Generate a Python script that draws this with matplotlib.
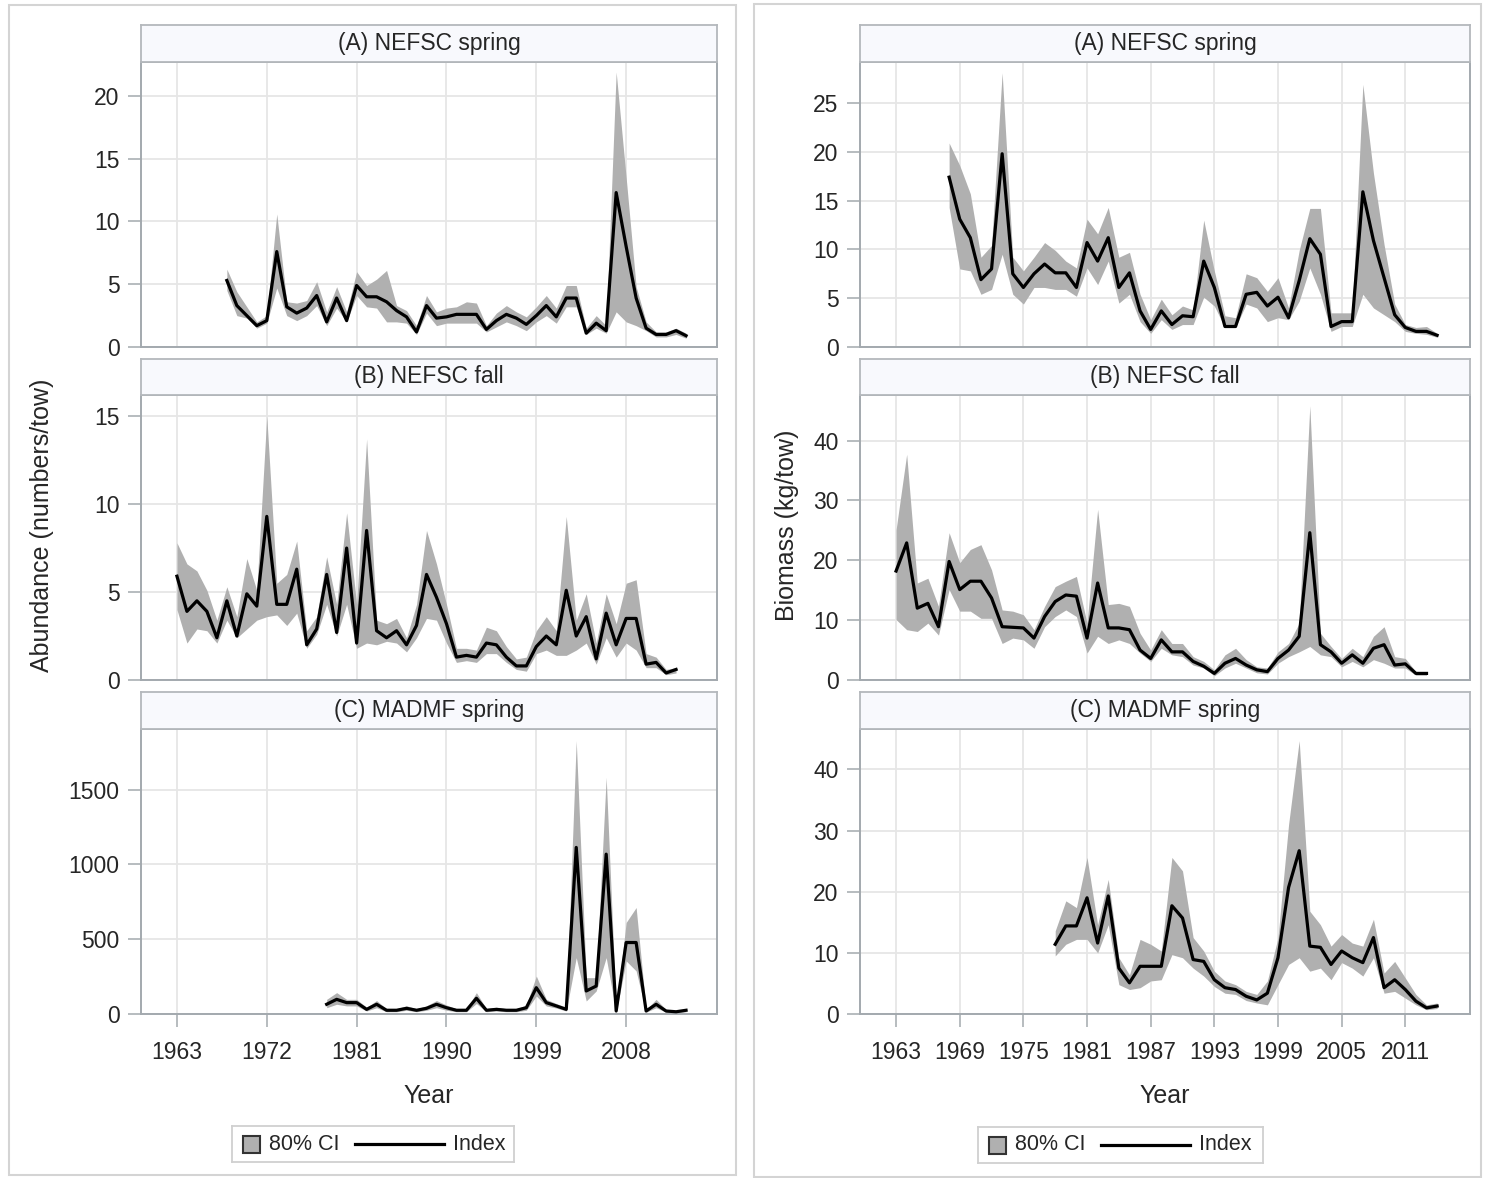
import numpy as np
import matplotlib
matplotlib.use("Agg")
import matplotlib.pyplot as plt
from matplotlib.patches import Rectangle
from matplotlib.lines import Line2D

plt.rcParams['font.family'] = ['Liberation Sans', 'DejaVu Sans']

# ---------------- data ----------------
spring_years = list(range(1968, 2015))
fall_years = list(range(1963, 2014))
madmf_years = list(range(1978, 2015))

# Abundance (numbers/tow)
ab_spring_idx = [5.3, 3.3, 2.5, 1.7, 2.1, 7.6, 3.2, 2.7, 3.1, 4.1,
                 2.0, 3.9, 2.1, 4.9, 4.0, 4.0, 3.6, 2.9, 2.4, 1.2,
                 3.3, 2.3, 2.4, 2.6, 2.6, 2.6, 1.4, 2.1, 2.6, 2.3,
                 1.8, 2.5, 3.3, 2.4, 3.9, 3.9, 1.1, 1.9, 1.3, 12.3,
                 8.0, 3.9, 1.5, 1.0, 1.0, 1.3, 0.9]
ab_spring_hi = [6.2, 4.4, 3.2, 2.0, 2.5, 10.6, 3.6, 3.5, 3.7, 5.2,
                2.8, 4.8, 2.8, 6.0, 4.9, 5.4, 6.1, 3.3, 2.9, 1.7,
                4.1, 2.8, 3.1, 3.2, 3.6, 3.5, 1.7, 2.7, 3.3, 2.8,
                2.4, 3.2, 4.1, 3.1, 4.9, 4.9, 1.5, 2.5, 1.7, 21.9,
                13.5, 4.8, 2.0, 1.2, 1.2, 1.5, 1.1]
ab_spring_lo = [4.5, 2.5, 2.3, 1.5, 1.9, 4.7, 2.5, 2.1, 2.5, 3.3,
                1.7, 3.1, 2.0, 4.1, 3.2, 3.1, 2.0, 2.0, 1.9, 1.0,
                2.7, 1.7, 1.9, 1.9, 1.9, 1.9, 1.2, 1.6, 2.0, 1.7,
                1.3, 2.0, 2.5, 1.9, 3.2, 3.2, 1.0, 1.5, 1.1, 2.8,
                2.0, 1.7, 1.3, 0.8, 0.8, 1.0, 0.7]

ab_fall_idx = [5.9, 3.9, 4.5, 3.9, 2.4, 4.5, 2.5, 4.9, 4.2, 9.3,
               4.3, 4.3, 6.3, 2.0, 2.9, 6.0, 2.7, 7.5, 2.1, 8.5,
               2.8, 2.4, 2.8, 2.0, 3.1, 6.0, 4.7, 3.2, 1.3, 1.4,
               1.3, 2.1, 2.0, 1.3, 0.8, 0.8, 1.9, 2.5, 2.0, 5.1,
               2.5, 3.6, 1.2, 3.8, 2.0, 3.5, 3.5, 0.9, 1.0, 0.4,
               0.6]
ab_fall_hi = [7.8, 6.6, 6.2, 5.1, 3.4, 5.3, 3.6, 6.9, 5.1, 15.0,
              5.5, 6.0, 7.9, 2.8, 3.6, 7.0, 4.3, 9.5, 4.3, 13.7,
              3.4, 3.2, 3.5, 2.4, 4.3, 8.5, 6.6, 4.3, 1.8, 1.8,
              1.7, 3.0, 2.8, 1.9, 1.2, 1.3, 2.8, 3.6, 2.8, 9.3,
              3.4, 4.9, 2.1, 4.9, 3.2, 5.5, 5.7, 1.5, 1.3, 0.6,
              0.7]
ab_fall_lo = [4.0, 2.1, 2.9, 2.8, 2.1, 3.4, 2.4, 2.9, 3.4, 3.6,
              3.7, 3.1, 3.8, 1.8, 2.6, 4.3, 2.5, 4.3, 1.8, 2.1,
              2.0, 2.2, 2.1, 1.6, 2.4, 3.5, 3.4, 2.1, 1.0, 1.1,
              1.0, 1.5, 1.5, 1.0, 0.6, 0.5, 1.5, 1.7, 1.4, 1.4,
              1.7, 2.1, 0.9, 2.4, 1.3, 2.1, 1.7, 0.7, 0.7, 0.3,
              0.4]

ab_madmf_idx = [65, 98, 76, 76, 31, 65, 25, 25, 38, 25,
                38, 65, 42, 25, 25, 105, 25, 31, 25, 25,
                42, 176, 76, 54, 31, 1114, 154, 187, 1069, 20,
                478, 478, 20, 65, 20, 15, 25]
ab_madmf_hi = [98, 143, 98, 98, 45, 90, 35, 35, 55, 35,
               55, 90, 60, 35, 35, 143, 35, 45, 35, 35,
               60, 254, 98, 70, 45, 1828, 243, 243, 1583, 35,
               612, 712, 30, 98, 30, 22, 35]
ab_madmf_lo = [42, 65, 54, 54, 20, 42, 15, 15, 25, 15,
               25, 42, 25, 15, 15, 70, 15, 20, 15, 15,
               25, 120, 54, 40, 20, 377, 87, 154, 377, 10,
               355, 288, 12, 42, 12, 8, 15]

# Biomass (kg/tow)
bm_spring_idx = [17.4, 13.1, 11.2, 6.9, 8.0, 19.8, 7.5, 6.1, 7.5, 8.5,
                 7.6, 7.6, 6.1, 10.7, 8.8, 11.2, 6.1, 7.6, 3.7, 1.8,
                 3.7, 2.3, 3.2, 3.1, 8.8, 6.1, 2.1, 2.1, 5.4, 5.6,
                 4.2, 5.1, 3.0, 6.8, 11.1, 9.5, 2.1, 2.6, 2.6, 15.9,
                 10.9, 7.1, 3.3, 2.0, 1.6, 1.6, 1.2]
bm_spring_hi = [20.9, 18.6, 15.7, 9.2, 10.4, 28.1, 9.2, 7.8, 9.2, 10.7,
                9.9, 8.8, 8.1, 13.1, 11.6, 14.3, 9.2, 9.7, 5.4, 2.8,
                4.9, 3.3, 4.2, 3.8, 13.0, 7.8, 3.2, 3.0, 7.5, 7.1,
                5.7, 7.1, 4.0, 9.9, 14.2, 14.2, 3.5, 3.5, 3.5, 26.9,
                17.8, 10.5, 4.4, 2.3, 2.0, 2.1, 1.4]
bm_spring_lo = [14.3, 8.0, 7.8, 5.4, 5.9, 9.5, 5.4, 4.4, 6.1, 6.1,
                5.9, 5.9, 5.2, 8.1, 6.4, 8.8, 4.5, 5.4, 2.6, 1.4,
                2.8, 1.8, 2.3, 2.3, 5.1, 4.2, 2.0, 2.0, 4.4, 4.0,
                2.6, 3.0, 2.8, 4.7, 8.1, 5.4, 1.6, 2.1, 2.1, 5.4,
                4.0, 3.3, 2.6, 1.6, 1.4, 1.3, 1.0]

bm_fall_idx = [18.2, 22.9, 12.0, 12.8, 8.9, 19.8, 15.1, 16.5, 16.5, 13.7,
               8.9, 8.8, 8.7, 7.0, 10.6, 13.1, 14.2, 14.0, 7.0, 16.2,
               8.7, 8.7, 8.4, 5.0, 3.6, 6.7, 4.7, 4.7, 3.1, 2.3,
               1.1, 2.8, 3.6, 2.5, 1.7, 1.4, 3.6, 5.0, 7.3, 24.6,
               5.9, 4.7, 2.8, 4.2, 2.8, 5.3, 5.9, 2.5, 2.7, 1.1,
               1.1]
bm_fall_hi = [25.1, 37.7, 16.2, 17.0, 12.3, 24.6, 19.6, 21.8, 22.6, 18.4,
              11.7, 11.5, 10.9, 8.4, 12.3, 15.6, 16.5, 17.3, 9.5, 28.5,
              12.6, 12.8, 12.3, 7.8, 5.0, 8.4, 6.1, 6.1, 3.9, 3.1,
              1.7, 4.2, 5.3, 3.4, 2.2, 2.0, 4.7, 6.1, 9.5, 45.8,
              7.8, 5.6, 3.6, 5.3, 3.9, 7.3, 8.9, 3.9, 3.6, 1.4,
              1.4]
bm_fall_lo = [10.1, 8.4, 8.1, 9.5, 7.5, 15.1, 11.5, 11.5, 10.3, 10.3,
              6.1, 7.0, 6.7, 5.3, 8.9, 10.6, 11.7, 10.6, 4.5, 7.3,
              6.1, 6.7, 6.1, 4.5, 3.1, 5.3, 4.2, 3.9, 2.5, 2.0,
              0.7, 2.0, 2.8, 2.0, 1.2, 1.0, 2.8, 3.9, 4.7, 5.6,
              4.2, 3.9, 2.2, 3.1, 2.2, 3.4, 2.8, 2.0, 2.0, 0.8,
              0.8]

bm_madmf_idx = [11.4, 14.4, 14.4, 19.0, 11.6, 19.3, 7.5, 5.1, 7.8, 7.8,
                7.8, 17.7, 15.7, 8.9, 8.6, 5.6, 4.3, 4.0, 2.9, 2.3,
                3.4, 9.2, 20.7, 26.7, 11.1, 10.9, 8.1, 10.3, 9.2, 8.4,
                12.5, 4.3, 5.6, 4.0, 2.1, 1.0, 1.3]
bm_madmf_hi = [13.6, 18.5, 17.4, 25.6, 14.6, 22.0, 9.2, 6.4, 12.2, 11.4,
               10.3, 25.6, 23.4, 12.5, 10.3, 7.0, 5.4, 4.8, 3.7, 3.2,
               5.4, 12.5, 31.0, 44.7, 16.8, 14.6, 11.1, 13.0, 11.6, 11.1,
               15.5, 6.7, 8.6, 5.9, 3.2, 1.5, 1.8]
bm_madmf_lo = [9.5, 11.4, 12.2, 12.2, 10.0, 14.6, 4.8, 4.0, 4.3, 5.4,
               5.6, 9.7, 9.2, 7.5, 6.2, 4.5, 3.4, 3.2, 2.2, 1.8,
               1.5, 4.8, 8.1, 9.2, 7.0, 7.5, 5.6, 8.4, 7.5, 6.2,
               9.2, 3.4, 3.7, 2.6, 1.5, 0.7, 0.9]

titles = ["(A) NEFSC spring", "(B) NEFSC fall", "(C) MADMF spring"]
left_xticks = [1963, 1972, 1981, 1990, 1999, 2008]
right_xticks = [1963, 1969, 1975, 1981, 1987, 1993, 1999, 2005, 2011]
left_yticks = [[0, 5, 10, 15, 20], [0, 5, 10, 15], [0, 500, 1000, 1500]]
right_yticks = [[0, 5, 10, 15, 20, 25], [0, 10, 20, 30, 40], [0, 10, 20, 30, 40]]
left_ylims = [(0, 22.7), (0, 16.2), (0, 1906)]
right_ylims = [(0, 29.2), (0, 47.6), (0, 46.6)]
legend_labels = ["80% CI", "Index"]

# ---------------- style ----------------
W, H = 1485, 1178
BAND = '#B0B0B0'
GRID = '#E6E6E6'
SPINE = '#A3A9AE'
TXT = '#262626'
HEADER = '#F8F9FD'
FS = 16.5

fig = plt.figure(figsize=(W / 100, H / 100), dpi=100)


def rect(x0, y0, x1, y1):
    return [x0 / W, 1 - y1 / H, (x1 - x0) / W, (y1 - y0) / H]


# outer frames
for (x0, y0, x1, y1) in [(9, 5, 736, 1175), (754, 4, 1481, 1177)]:
    fig.patches.append(Rectangle((x0 / W, 1 - y1 / H), (x1 - x0) / W, (y1 - y0) / H,
                                 transform=fig.transFigure, fill=False,
                                 edgecolor='#D4D4D4', lw=1.5, zorder=0))

plot_rows = [(62, 347), (395, 680), (729, 1014)]
head_rows = [(25, 62), (359, 395), (692, 729)]


def panel(x0, x1, row, years, idx, lo, hi, xlim, ylim, yticks, xticks, title, bottom):
    py0, py1 = plot_rows[row]
    hy0, hy1 = head_rows[row]
    ax = fig.add_axes(rect(x0, py0, x1, py1))
    ax.fill_between(years, lo, hi, color=BAND, lw=0, zorder=2)
    ax.plot(years, idx, color='black', lw=2.3, zorder=3)
    ax.set_xlim(*xlim)
    ax.set_ylim(*ylim)
    ax.set_xticks(xticks)
    ax.set_yticks(yticks)
    ax.grid(True, color=GRID, lw=1.3, zorder=0)
    ax.set_axisbelow(True)
    for s in ax.spines.values():
        s.set_color(SPINE)
        s.set_linewidth(1.4)
    ax.tick_params(axis='y', direction='out', length=9.5, width=1.1, color=SPINE,
                   labelsize=FS, labelcolor=TXT, pad=6)
    if bottom:
        ax.tick_params(axis='x', direction='out', length=9.5, width=1.1, color=SPINE,
                       labelsize=FS, labelcolor=TXT, pad=10)
    else:
        ax.tick_params(axis='x', length=0, labelbottom=False)
    hax = fig.add_axes(rect(x0, hy0, x1, hy1))
    hax.set_facecolor(HEADER)
    hax.set_xticks([])
    hax.set_yticks([])
    for s in hax.spines.values():
        s.set_color('#B4B8BC')
        s.set_linewidth(1.3)
    hax.text(0.5, 0.5, title, ha='center', va='center', fontsize=FS, color=TXT,
             transform=hax.transAxes)
    return ax


left = [(ab_spring_idx, ab_spring_lo, ab_spring_hi, spring_years),
        (ab_fall_idx, ab_fall_lo, ab_fall_hi, fall_years),
        (ab_madmf_idx, ab_madmf_lo, ab_madmf_hi, madmf_years)]
right = [(bm_spring_idx, bm_spring_lo, bm_spring_hi, spring_years),
         (bm_fall_idx, bm_fall_lo, bm_fall_hi, fall_years),
         (bm_madmf_idx, bm_madmf_lo, bm_madmf_hi, madmf_years)]

for i, (idx, lo, hi, yrs) in enumerate(left):
    panel(141, 717, i, yrs, idx, lo, hi, (1959.4, 2017.1), left_ylims[i],
          left_yticks[i], left_xticks, titles[i], i == 2)
for i, (idx, lo, hi, yrs) in enumerate(right):
    panel(860, 1470, i, yrs, idx, lo, hi, (1959.6, 2017.1), right_ylims[i],
          right_yticks[i], right_xticks, titles[i], i == 2)

# axis labels
fig.text(42 / W, 1 - 525 / H, "Abundance (numbers/tow)", rotation=90,
         ha='center', va='center', fontsize=18, color=TXT)
fig.text(787 / W, 1 - 525 / H, "Biomass (kg/tow)", rotation=90,
         ha='center', va='center', fontsize=18, color=TXT)
fig.text(429 / W, 1 - 1096 / H, "Year", ha='center', va='center', fontsize=18, color=TXT)
fig.text(1165 / W, 1 - 1096 / H, "Year", ha='center', va='center', fontsize=18, color=TXT)


# legends
def legend_box(x0, y0, w, h):
    lax = fig.add_axes(rect(x0, y0, x0 + w, y0 + h))
    lax.set_xlim(0, w)
    lax.set_ylim(0, h)
    lax.set_xticks([])
    lax.set_yticks([])
    for s in lax.spines.values():
        s.set_color('#D0D0D0')
        s.set_linewidth(1.3)
    cy = h / 2
    lax.add_patch(Rectangle((11, cy - 8.5), 17, 17, facecolor=BAND, edgecolor='#333333', lw=1.5))
    lax.text(37, cy, legend_labels[0], ha='left', va='center', fontsize=15.5, color=TXT)
    lax.add_line(Line2D([123, 212], [cy, cy], color='black', lw=2.3))
    lax.text(221, cy, legend_labels[1], ha='left', va='center', fontsize=15.5, color=TXT)


legend_box(232, 1126, 282, 36)
legend_box(978, 1127, 285, 36)

fig.savefig("out.png", dpi=100)
